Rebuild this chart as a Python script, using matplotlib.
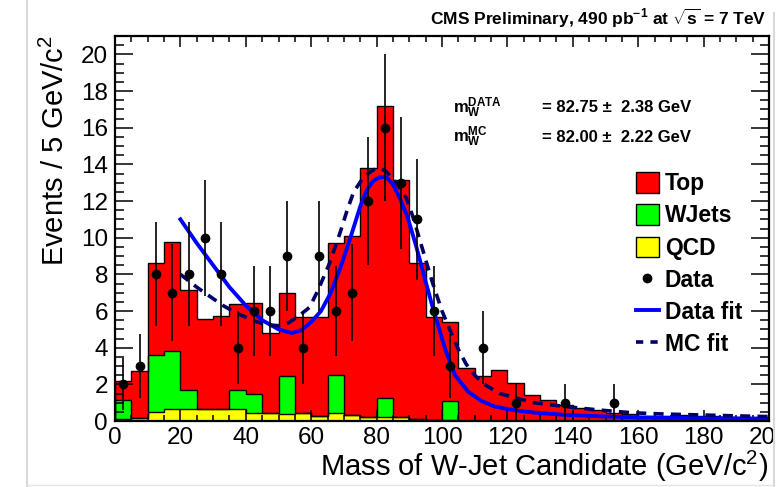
import numpy as np
import matplotlib
matplotlib.use("Agg")
import matplotlib.pyplot as plt
from matplotlib.patches import Patch, Rectangle
from matplotlib.lines import Line2D
from matplotlib.ticker import MultipleLocator

plt.rcParams['font.family'] = ['Liberation Sans', 'DejaVu Sans']
plt.rcParams['mathtext.fontset'] = 'custom'
plt.rcParams['mathtext.rm'] = 'Liberation Sans'
plt.rcParams['mathtext.bf'] = 'Liberation Sans:bold'
plt.rcParams['mathtext.it'] = 'Liberation Sans:italic'
plt.rcParams['mathtext.sf'] = 'Liberation Sans'
plt.rcParams['mathtext.default'] = 'regular'

# 5 GeV bins, 0-200
bin_edges = np.arange(0, 205, 5)

qcd = [0.10, 0.18, 0.50, 0.68, 0.65, 0.65, 0.68, 0.63, 0.45, 0.45,
       0.36, 0.46, 0.27, 0.42, 0.33, 0.20, 0.20, 0.20, 0.11, 0.05,
       0.05, 0, 0, 0, 0, 0, 0, 0, 0, 0,
       0, 0, 0, 0, 0, 0, 0, 0, 0, 0]

wjets = [1.04, 0, 3.12, 3.12, 1.04, 0, 0, 1.04, 1.04, 0,
         2.08, 0, 0, 2.08, 0, 0, 1.04, 0, 0, 0,
         1.04, 0, 0, 0, 0, 0, 0, 0, 0, 0,
         0, 0, 0, 0, 0, 0, 0, 0, 0, 0]

top = [1.06, 2.57, 4.98, 5.95, 5.46, 4.90, 5.07, 4.73, 4.96, 4.35,
       4.56, 5.24, 5.38, 7.20, 9.77, 13.60, 15.96, 12.95, 8.49, 5.60,
       4.31, 2.90, 2.45, 2.78, 2.05, 1.42, 1.14, 0.85, 0.70, 0.60,
       0.45, 0.36, 0.28, 0.28, 0.33, 0.25, 0.30, 0.20, 0.15, 0.10]

data = [2, 3, 8, 7, 8, 10, 8, 4, 6, 6,
        9, 4, 9, 6, 7, 12, 16, 13, 11, 6,
        3, 0, 4, 0, 1, 0, 0, 1, 0, 0,
        1, 0, 0, 0, 0, 0, 0, 0, 0, 0]

# fit curves
datafit_x = [20, 25, 30, 35, 40, 45, 50, 54, 57, 60, 63, 66, 69, 72, 75, 77, 79, 81,
             83, 85, 87, 89.5, 92, 95, 97, 99, 101, 104, 108, 112, 116, 120, 125, 130,
             138, 148, 158, 170, 185, 200]
datafit_y = [11.0, 9.7, 8.5, 7.3, 6.3, 5.5, 5.0, 4.8, 4.95, 5.4, 6.0, 7.0, 8.4, 10.0, 11.7,
             12.6, 13.1, 13.3, 13.3, 12.9, 12.2, 11.1, 9.6, 7.6, 6.3, 5.1, 3.9, 2.5, 1.6,
             1.1, 0.8, 0.65, 0.52, 0.43, 0.33, 0.26, 0.2, 0.17, 0.15, 0.13]

mcfit_x = [20, 25, 29, 33, 37, 42, 46, 50, 53, 56, 59.5, 62, 65.6, 68.7, 71, 73, 76, 79,
           81, 83, 86, 89, 91, 93, 95, 97, 100, 103.3, 105, 107.4, 110, 112.5, 117.6,
           121.7, 128, 138, 148, 158, 168, 179, 190, 200]
mcfit_y = [8.0, 7.3, 6.8, 6.3, 5.9, 5.5, 5.25, 5.2, 5.35, 5.7, 6.2, 7.1, 8.6, 10.2, 11.5,
           12.5, 13.3, 13.7, 13.8, 13.6, 13.0, 12.2, 11.2, 10.0, 8.8, 7.6, 6.0, 4.6, 3.9,
           3.1, 2.5, 2.05, 1.5, 1.3, 1.0, 0.78, 0.6, 0.45, 0.38, 0.33, 0.28, 0.24]

qcd = np.array(qcd)
wjets = np.array(wjets)
top = np.array(top)
data = np.array(data, dtype=float)

fig = plt.figure(figsize=(7.8, 4.87), dpi=100)
ax = fig.add_axes([115 / 780, 1 - 421 / 487, (769 - 115) / 780, (421 - 36) / 487])

# stacked histogram: total first, then lower layers drawn on top
layer_total = qcd + wjets + top
layer_mid = qcd + wjets
for vals, col in [(layer_total, '#ff0000'), (layer_mid, '#00ff00'), (qcd, '#ffff00')]:
    ax.stairs(vals, bin_edges, fill=True, color=col, zorder=1)
    ax.stairs(vals, bin_edges, color='black', lw=1.0, zorder=2)

centers = 0.5 * (bin_edges[:-1] + bin_edges[1:])
m = data > 0
ax.errorbar(centers[m], data[m], yerr=np.sqrt(data[m]), fmt='o', color='black',
            ms=6, elinewidth=1.2, capsize=0, zorder=5)

ax.plot(datafit_x, datafit_y, color='#0000ff', lw=2.8, zorder=4)
ax.plot(mcfit_x, mcfit_y, color='#000066', lw=2.6, ls=(0, (2.8, 2.0)), zorder=4)

ax.set_xlim(0, 200)
ax.set_ylim(0, 21)
ax.xaxis.set_major_locator(MultipleLocator(20))
ax.xaxis.set_minor_locator(MultipleLocator(5))
ax.yaxis.set_major_locator(MultipleLocator(2))
ax.yaxis.set_minor_locator(MultipleLocator(0.5))
ax.tick_params(which='both', direction='in', top=True, right=True, width=1.1,
               labelsize=17.5)
ax.tick_params(axis='x', which='major', length=8, pad=4)
ax.tick_params(axis='x', which='minor', length=4)
ax.tick_params(axis='y', which='major', length=13, pad=5)
ax.tick_params(axis='y', which='minor', length=6.5)
for s in ax.spines.values():
    s.set_linewidth(1.6)
    s.set_zorder(6)

fig.text(55 / 780, 1 - 35 / 487, 'Events / 5 GeV/c$^2$', rotation=90,
         ha='center', va='top', fontsize=21)
fig.text(768 / 780, 1 - 466 / 487, 'Mass of W-Jet Candidate (GeV/c$^2$)',
         ha='right', va='center', fontsize=21)

fig.text(766 / 780, 1 - 18 / 487,
         r'CMS Preliminary, 490 pb$^{\mathbf{-1}}$ at $\sqrt{\mathbf{s}}$ = 7 TeV',
         ha='right', va='center', fontsize=12.5, fontweight='bold')

fig.text(453 / 780, 1 - 108 / 487, r'$\mathbf{m}_{\mathbf{W}}^{\mathbf{DATA}}$',
         ha='left', va='center', fontsize=12, fontweight='bold')
fig.text(542 / 780, 1 - 108 / 487, '= 82.75 \u00b1  2.38 GeV',
         ha='left', va='center', fontsize=12, fontweight='bold')
fig.text(453 / 780, 1 - 137 / 487, r'$\mathbf{m}_{\mathbf{W}}^{\mathbf{MC}}$',
         ha='left', va='center', fontsize=12, fontweight='bold')
fig.text(542 / 780, 1 - 137 / 487, '= 82.00 \u00b1  2.22 GeV',
         ha='left', va='center', fontsize=12, fontweight='bold')

handles = [
    Patch(facecolor='#ff0000', edgecolor='black', label='Top'),
    Patch(facecolor='#00ff00', edgecolor='black', label='WJets'),
    Patch(facecolor='#ffff00', edgecolor='black', label='QCD'),
    Line2D([], [], marker='o', color='black', ls='none', ms=6, label='Data'),
    Line2D([], [], color='#0000ff', lw=2.8, label='Data fit'),
    Line2D([], [], color='#000066', lw=2.6, ls=(0, (2.0, 2.0)), label='MC fit'),
]
leg = fig.legend(handles=handles, loc='upper left',
                 bbox_to_anchor=(636 / 780, 1 - 172 / 487), frameon=False,
                 prop={'weight': 'bold', 'size': 16.5}, handlelength=1.0,
                 handleheight=1.0, handletextpad=0.25, labelspacing=0.4,
                 borderpad=0, borderaxespad=0)

# screenshot border
fig.patches.append(Rectangle((774 / 780, 0), 6 / 780, 1, transform=fig.transFigure,
                             facecolor='white', edgecolor='none', zorder=20))
fig.add_artist(Line2D([774 / 780, 774 / 780], [0, 1 - 13 / 487], color='#d8d8d8',
                      lw=1.5, transform=fig.transFigure, zorder=21))
fig.add_artist(Line2D([27 / 780, 27 / 780], [0, 1], color='#d8d8d8',
                      lw=1.5, transform=fig.transFigure, zorder=21))
fig.add_artist(Line2D([27 / 780, 774 / 780], [2 / 487, 2 / 487], color='#e4e4e4',
                      lw=1.0, transform=fig.transFigure, zorder=21))

fig.savefig('out.png', dpi=100)
